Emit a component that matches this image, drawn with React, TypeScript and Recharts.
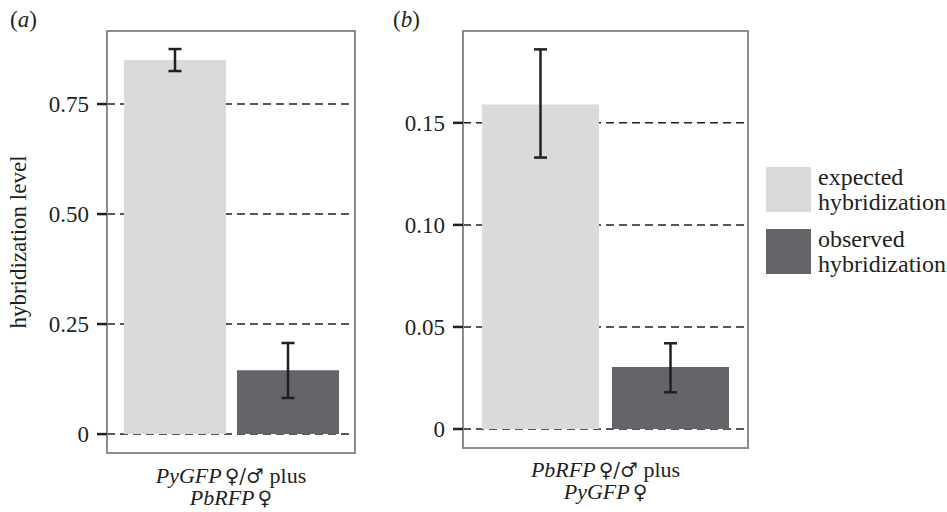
import React from 'react';
import { BarChart, Bar, XAxis, YAxis, CartesianGrid, ErrorBar, ReferenceArea, Label } from 'recharts';

const seriesKeys = ['expected', 'observed'];
const seriesLabels = [['expected', 'hybridization'], ['observed', 'hybridization']];
const seriesColors = ['#d9dadc', '#646569'];

const meansA = [0.85, 0.145];
const lowA = [0.825, 0.082];
const highA = [0.875, 0.207];
const ticksA = [0, 0.25, 0.5, 0.75];
const domainA = [-0.043, 0.916];
const xLabelA = [['PyGFP', '\u2640/\u2642', ' plus'], ['PbRFP', '\u2640', '']];

const meansB = [0.159, 0.0304];
const lowB = [0.133, 0.018];
const highB = [0.186, 0.042];
const ticksB = [0, 0.05, 0.1, 0.15];
const domainB = [-0.0093, 0.195];
const xLabelB = [['PbRFP', '\u2640/\u2642', ' plus'], ['PyGFP', '\u2640', '']];

const FONT = "'Liberation Serif', 'Times New Roman', serif";
const SYM = "'DejaVu Serif', 'DejaVu Sans', serif";
const INK = '#231f20';

function buildData(means: number[], low: number[], high: number[], id: string) {
  const row: any = { name: id };
  seriesKeys.forEach((k, i) => {
    row[k] = means[i];
    row[k + 'Err'] = [means[i] - low[i], high[i] - means[i]];
  });
  return [row];
}

const fmt = (v: number) => (v === 0 ? '0' : v.toFixed(2));

function makeTick(lines: string[][], dy1: number, dy2: number) {
  return (props: any) => {
    const { x, y } = props;
    return (
      <g>
        {lines.map((ln, i) => (
          <text key={i} x={x} y={y + (i === 0 ? dy1 : dy2)} textAnchor="middle" fontFamily={FONT} fontSize={22} fill={INK}>
            <tspan fontStyle="italic">{ln[0]}</tspan>
            <tspan fontFamily={SYM} fontSize={20} dx={3}>{ln[1]}</tspan>
            <tspan>{ln[2]}</tspan>
          </text>
        ))}
      </g>
    );
  };
}

function Panel(props: {
  data: any[]; ticks: number[]; domain: number[]; lines: string[][];
  width: number; yWidth: number; right: number; bottom: number; showLabel: boolean; dy1: number; dy2: number;
  barSize: number; barGap: number;
}) {
  const { data, ticks, domain, lines, width, yWidth, right, bottom, showLabel, dy1, dy2, barSize, barGap } = props;
  return (
    <BarChart width={width} height={512} data={data} margin={{ top: 31, right, bottom: 0, left: 0 }} barSize={barSize} barGap={barGap}>
      <CartesianGrid horizontal vertical={false} stroke={INK} strokeWidth={1.5} strokeDasharray="8 5" />
      <XAxis dataKey="name" axisLine={false} tickLine={false} tickSize={0} tickMargin={0} height={bottom} tick={makeTick(lines, dy1, dy2)} interval={0} />
      <YAxis
        type="number"
        domain={domain}
        ticks={ticks}
        allowDataOverflow
        width={yWidth}
        axisLine={false}
        tickSize={10}
        tickMargin={8}
        tickLine={{ stroke: INK, strokeWidth: 2.5 }}
        tickFormatter={fmt}
        tick={{ fontFamily: FONT, fontSize: 23, fill: INK }}
      >
        {showLabel && (
          <Label
            content={(p: any) => {
              const vb = p.viewBox || {};
              const cx = (vb.x || 0) + 26;
              const cy = (vb.y || 0) + (vb.height || 0) / 2;
              return (
                <text x={cx} y={cy} transform={`rotate(-90, ${cx}, ${cy})`} textAnchor="middle" fontFamily={FONT} fontSize={23} fill={INK}>
                  hybridization level
                </text>
              );
            }}
          />
        )}
      </YAxis>
      {seriesKeys.map((k, i) => (
        <Bar key={k} dataKey={k} fill={seriesColors[i]} isAnimationActive={false}>
          <ErrorBar dataKey={k + 'Err'} width={6.5} strokeWidth={2.5} stroke={INK} direction="y" />
        </Bar>
      ))}
      <ReferenceArea y1={domain[0]} y2={domain[1]} fill="none" fillOpacity={0} stroke="#8c8c8c" strokeWidth={2} ifOverflow="visible" />
    </BarChart>
  );
}

function PanelTag({ letter, left }: { letter: string; left: number }) {
  return (
    <div style={{ position: 'absolute', left, top: 7, fontFamily: FONT, fontSize: 23, color: INK, lineHeight: '26px' }}>
      (<i>{letter}</i>)
    </div>
  );
}

export default function App() {
  const dataA = buildData(meansA, lowA, highA, 'a');
  const dataB = buildData(meansB, lowB, highB, 'b');
  return (
    <div style={{ position: 'absolute', left: 0, top: 0, width: 947, height: 512, background: '#fff', fontFamily: FONT, overflow: 'hidden' }}>
      <div style={{ position: 'absolute', left: 0, top: 0 }}>
        <Panel data={dataA} ticks={ticksA} domain={domainA} lines={xLabelA} width={370} yWidth={107} right={15} bottom={59} showLabel dy1={30} dy2={52} barSize={102} barGap={11} />
      </div>
      <div style={{ position: 'absolute', left: 370, top: 0 }}>
        <Panel data={dataB} ticks={ticksB} domain={domainB} lines={xLabelB} width={390} yWidth={93} right={12} bottom={64} showLabel={false} dy1={29} dy2={51} barSize={117} barGap={13} />
      </div>
      <PanelTag letter="a" left={10} />
      <PanelTag letter="b" left={393} />
      <div style={{ position: 'absolute', left: 766, top: 167 }}>
        {seriesKeys.map((k, i) => (
          <div key={k} style={{ display: 'flex', alignItems: 'flex-start', marginBottom: 14 }}>
            <div style={{ width: 45, height: 45, background: seriesColors[i], flex: 'none' }} />
            <div style={{ marginLeft: 7, marginTop: -2, fontSize: 24, lineHeight: '25px', color: INK }}>
              {seriesLabels[i].map((t, j) => (
                <div key={j}>{t}</div>
              ))}
            </div>
          </div>
        ))}
      </div>
    </div>
  );
}
